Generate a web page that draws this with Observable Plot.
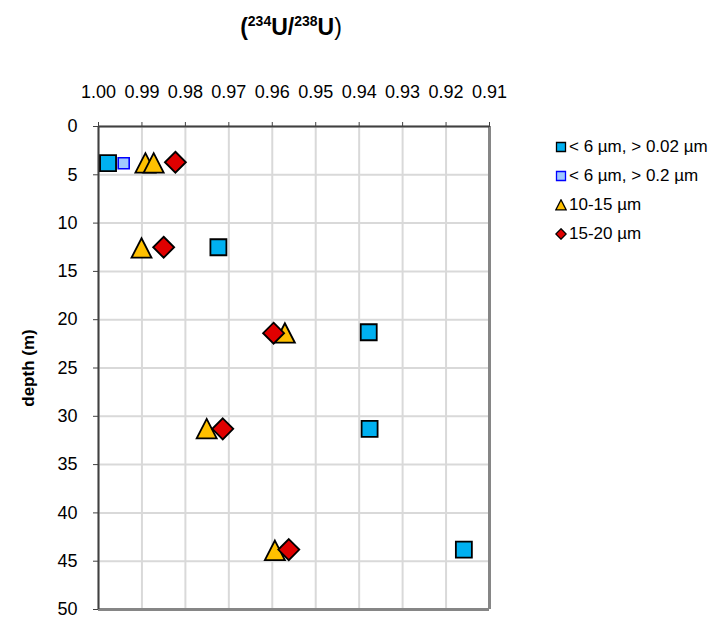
<!DOCTYPE html>
<html><head><meta charset="utf-8">
<script src="https://cdn.jsdelivr.net/npm/d3@7"></script>
<script src="https://cdn.jsdelivr.net/npm/@observablehq/plot@0.6"></script>
<style>
body{margin:0;background:#fff;font-family:"Liberation Sans",Arial,sans-serif;color:#000;}
#wrap{position:relative;width:714px;height:620px;}
#wrap svg{position:absolute;left:0;top:0;}
#title{position:absolute;left:0;width:582px;top:13px;text-align:center;font-weight:bold;font-size:23px;line-height:28px;}
#title sup{font-size:14px;vertical-align:9px;line-height:0;}
#title .p{font-weight:normal;}
#legend{position:absolute;left:555px;top:132px;font-size:17px;}
#legend .row{height:29px;display:flex;align-items:center;white-space:nowrap;}
#legend svg{position:static;margin-right:2px;}
</style></head><body><div id="wrap"><div id="title">(<sup>234</sup>U/<sup>238</sup>U<span class="p">)</span></div><div id="legend"></div></div>
<script>
// axis ticks
const xTicks = [1.00, 0.99, 0.98, 0.97, 0.96, 0.95, 0.94, 0.93, 0.92, 0.91];
const yTicks = [0, 5, 10, 15, 20, 25, 30, 35, 40, 45, 50];
// series names
const seriesNames = ["< 6 µm, > 0.02 µm", "< 6 µm, > 0.2 µm", "10-15 µm", "15-20 µm"];
// < 6 µm, > 0.02 µm
const s1Ratio = [0.9978, 0.9724, 0.9378, 0.9376, 0.9159];
const s1Depth = [3.8, 12.5, 21.3, 31.3, 43.8];
// < 6 µm, > 0.2 µm
const s2Ratio = [0.9942];
const s2Depth = [3.8];
// 10-15 µm
const s3Ratio = [0.9892, 0.9873, 0.9901, 0.9571, 0.9751, 0.9594];
const s3Depth = [3.8, 3.8, 12.6, 21.4, 31.3, 43.9];
// 15-20 µm
const s4Ratio = [0.9823, 0.9850, 0.9597, 0.9714, 0.9562];
const s4Depth = [3.7, 12.5, 21.4, 31.3, 43.8];

const rows = (r, d) => r.map((v, i) => ({ratio: v, depth: d[i]}));

const rOf = size => Math.sqrt(size / Math.PI);
const symSquare = {draw(c, size){const r = rOf(size); c.rect(-r, -r, 2*r, 2*r);}};
const symTriangle = {draw(c, size){const r = rOf(size); c.moveTo(0, -r); c.lineTo(r, 0.95*r); c.lineTo(-r, 0.95*r); c.closePath();}};
const symDiamond = {draw(c, size){const r = rOf(size); c.moveTo(0, -r); c.lineTo(r, 0); c.lineTo(0, r); c.lineTo(-r, 0); c.closePath();}};

const styles = [
  {symbol: symSquare, r: 8, fill: "#00b0f0", stroke: "#000", strokeWidth: 1.8},
  {symbol: symSquare, r: 5.5, fill: "#a0c8ff", stroke: "#0000ff", strokeWidth: 1.6},
  {symbol: symTriangle, r: 10, fill: "#ffc000", stroke: "#000", strokeWidth: 1.8},
  {symbol: symDiamond, r: 10.5, fill: "#e00000", stroke: "#000", strokeWidth: 1.8}
];

const plot = Plot.plot({
  width: 714, height: 620,
  marginLeft: 98, marginRight: 225, marginTop: 126, marginBottom: 11,
  style: {fontFamily: "Liberation Sans, Arial, sans-serif", fontSize: "17px", color: "#000", background: "transparent"},
  x: {domain: [1.00, 0.91], type: "linear"},
  y: {domain: [0, 50], reverse: true},
  marks: [
    Plot.gridX(xTicks, {stroke: "#d9d9d9", strokeOpacity: 1, strokeWidth: 2}),
    Plot.gridY(yTicks, {stroke: "#d9d9d9", strokeOpacity: 1, strokeWidth: 2}),
    Plot.ruleX([0.91], {stroke: "#868686", strokeWidth: 3}),
    Plot.ruleY([50], {stroke: "#868686", strokeWidth: 3}),
    Plot.ruleX([1.00], {stroke: "#404040", strokeWidth: 2}),
    Plot.ruleY([0], {stroke: "#404040", strokeWidth: 2}),
    Plot.axisX(xTicks, {anchor: "top", tickSize: 5, stroke: "#404040", text: null, label: null}),
    Plot.axisX(xTicks, {anchor: "top", tickSize: 0, tickPadding: 0, dy: -29, tickFormat: d3.format(".2f"), label: null, fill: "#000", fontSize: 18}),
    Plot.axisY(yTicks, {anchor: "left", tickSize: 5, tickPadding: 16, label: null, stroke: "#404040", fill: "#000", fontSize: 18}),
    Plot.text(["depth (m)"], {frameAnchor: "left", textAnchor: "middle", rotate: -90, dx: -70, fontWeight: "bold", fontSize: 17, fill: "#000"}),
    Plot.dot(rows(s1Ratio, s1Depth), {x: "ratio", y: "depth", ...styles[0]}),
    Plot.dot(rows(s2Ratio, s2Depth), {x: "ratio", y: "depth", ...styles[1]}),
    Plot.dot(rows(s3Ratio, s3Depth), {x: "ratio", y: "depth", ...styles[2]}),
    Plot.dot(rows(s4Ratio, s4Depth), {x: "ratio", y: "depth", ...styles[3]})
  ]
});
document.getElementById("wrap").prepend(plot);

// legend
const legendSize = [4.5, 4.5, 5.2, 5.2];
const legend = d3.select("#legend");
seriesNames.forEach((name, i) => {
  const row = legend.append("div").attr("class", "row");
  const svg = row.append("svg").attr("width", 12).attr("height", 12);
  const s = styles[i];
  svg.append("path")
    .attr("transform", "translate(6,6)")
    .attr("d", d3.symbol(s.symbol, Math.PI * legendSize[i] * legendSize[i])())
    .attr("fill", s.fill).attr("stroke", s.stroke).attr("stroke-width", 1.3);
  row.append("span").text(name);
});
</script>
</body></html>
